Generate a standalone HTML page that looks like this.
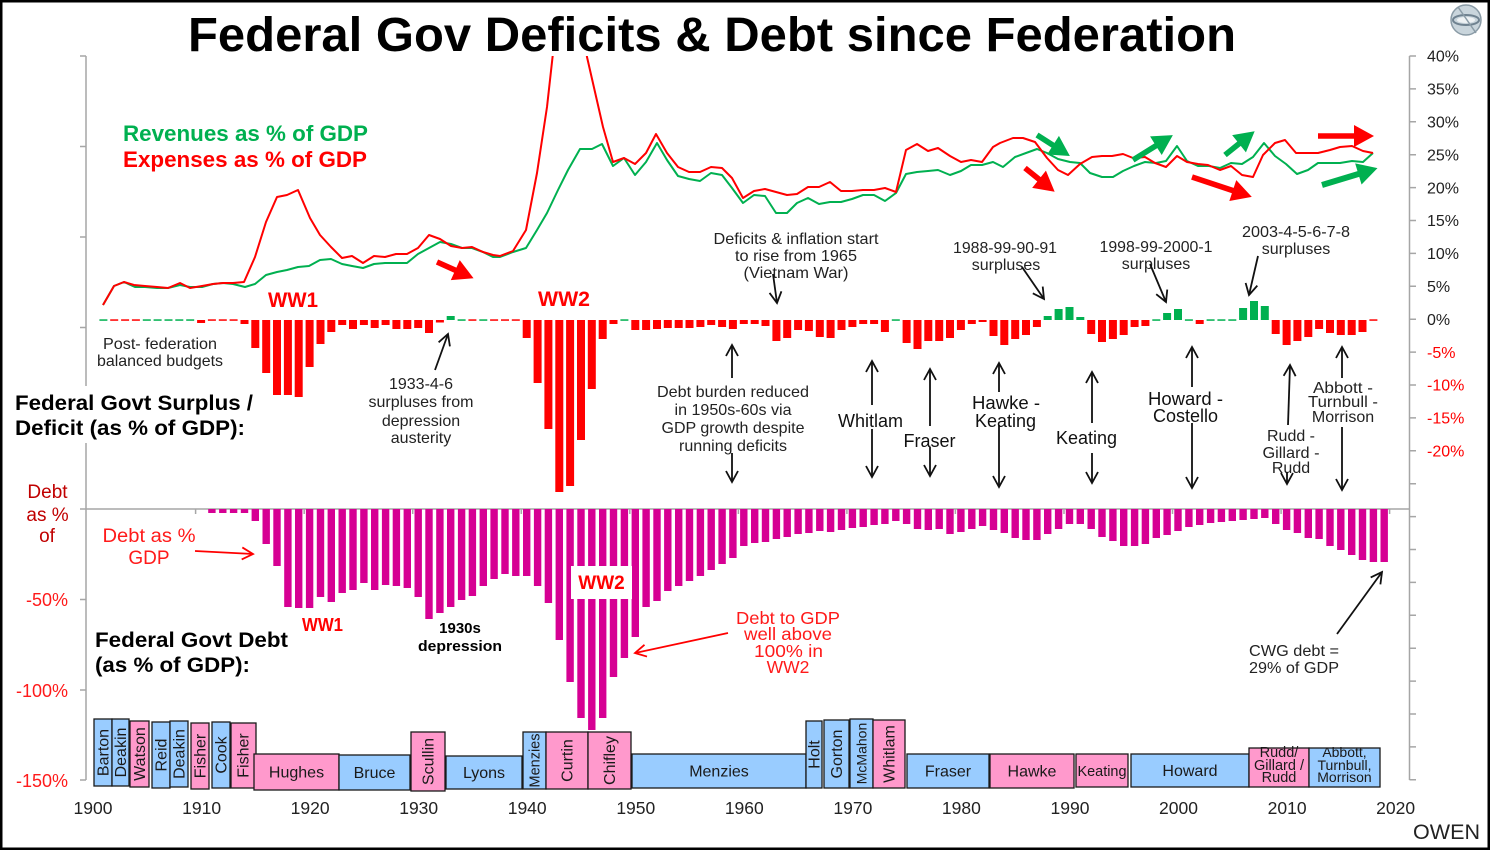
<!DOCTYPE html>
<html><head><meta charset="utf-8"><style>
html,body{margin:0;padding:0;background:#fff;}
svg{display:block;}
text{font-family:"Liberation Sans",Arial,sans-serif;}
</style></head><body>
<svg width="1490" height="851" viewBox="0 0 1490 851" xmlns="http://www.w3.org/2000/svg">
<defs>
<marker id="ah" markerUnits="userSpaceOnUse" markerWidth="16" markerHeight="16" refX="13" refY="8" orient="auto"><path d="M2,2 L13,8 L2,14" fill="none" stroke="#111" stroke-width="1.8"/></marker>
<marker id="ahr" markerUnits="userSpaceOnUse" markerWidth="16" markerHeight="16" refX="13" refY="8" orient="auto"><path d="M2,2 L13,8 L2,14" fill="none" stroke="#f00" stroke-width="1.8"/></marker>
<clipPath id="cp"><rect x="86" y="56" width="1324" height="300"/></clipPath>
</defs>
<rect width="1490" height="851" fill="#fff"/>

<!-- axes -->
<g stroke="#a6a6a6" stroke-width="1.5" fill="none">
<line x1="86" y1="56" x2="86" y2="780"/>
<path d="M80,56H86M80,146.5H86M80,237H86M80,327.5H86M80,418H86M80,509H86M80,599.5H86M80,690H86M80,780H86"/>
<line x1="1409.5" y1="56" x2="1409.5" y2="780"/>
<path d="M1409.5,56H1416M1409.5,88.9H1416M1409.5,121.8H1416M1409.5,154.7H1416M1409.5,187.6H1416M1409.5,220.5H1416M1409.5,253.4H1416M1409.5,286.3H1416M1409.5,319.2H1416M1409.5,352.1H1416M1409.5,385H1416M1409.5,417.9H1416M1409.5,450.8H1416M1409.5,483.7H1416M1409.5,516.6H1416M1409.5,549.5H1416M1409.5,582.4H1416M1409.5,615.3H1416M1409.5,648.2H1416M1409.5,681.1H1416M1409.5,714H1416M1409.5,746.9H1416M1409.5,779.8H1416"/>
<line x1="86" y1="509" x2="1409.5" y2="509"/>
<path d="M195.6,509V514M304.2,509V514M412.7,509V514M521.3,509V514M629.8,509V514M738.4,509V514M846.9,509V514M955.4,509V514M1064,509V514M1172.5,509V514M1281.1,509V514M1389.6,509V514"/>
</g>

<!-- white box behind surplus label -->
<rect x="12" y="386" width="245" height="57" fill="#fff"/>

<!-- revenue / expense lines -->
<g clip-path="url(#cp)" fill="none" stroke-width="2" stroke-linejoin="round">
<polyline stroke="#00b050" points="103,305 114,286 124,282 135,287 145,287 157,288 168,288 180,285 190,287 202,287 213,284 223,283 233,284 245,287 255,284 266,275 277,272 287,270 298,267 309,266 320,260 331,259 342,264 352,266 363,268 374,264 385,263 396,263 407,263 418,254 429,248 440,242 451,244 462,248 472,248 483,252 493,257 500,257 513,252 526,248 537,230 547,213 558,190 568,170 580,149 592,149 602,144 613,166 624,158 635,175 646,162 657,143 667,160 678,176 689,179 700,181 711,173 722,175 732,188 743,203 754,195 765,196 776,213 787,213 797,203 808,198 819,204 830,202 841,202 852,199 863,195 874,195 885,201 896,193 906,174 917,172 928,171 938,170 950,175 961,171 971,165 982,165 993,162 1003,167 1015,157 1026,153 1037,149 1047,153 1058,159 1070,162 1080,163 1090,173 1102,177 1113,177 1123,171 1134,166 1145,162 1156,163 1166,161 1177,146 1187,161 1198,166 1209,166 1220,168 1231,163 1242,164 1253,157 1264,143 1275,156 1286,164 1297,174 1308,170 1318,163 1330,163 1340,163 1352,161 1363,162 1373,153"/>
<polyline stroke="#ff0000" points="103,305 114,286 124,282 134,285 145,286 157,287 168,288 180,283 190,288 202,286 213,284 223,283 233,283 244,282 255,257 266,222 277,197 287,195 298,190 310,218 320,235 331,247 342,258 352,256 363,263 374,256 385,257 396,254 407,254 418,248 429,235 440,239 451,246 462,248 472,247 483,252 493,255 500,256 513,251 526,230 537,173 547,107 553,53 565,0 578,0 587,57 595,92 603,127 613,162 624,158 635,164 646,153 656,134 667,153 678,167 689,172 700,172 711,167 722,168 732,178 743,198 754,191 765,189 776,192 787,195 797,194 808,187 819,187 830,182 841,191 852,191 863,190 874,190 885,188 896,192 906,150 917,144 928,151 938,148 950,156 961,162 971,160 982,162 993,147 1000,143 1013,138 1023,138 1035,142 1047,158 1058,170 1068,175 1080,164 1092,157 1102,156 1112,156 1123,154 1133,158 1145,157 1155,163 1166,167 1177,156 1187,162 1198,164 1208,165 1220,170 1231,166 1242,175 1253,177 1263,155 1275,143 1285,140 1296,153 1308,153 1318,153 1330,150 1340,147 1352,146 1363,151 1373,153"/>
</g>

<!-- deficit bars red -->
<g fill="#ff0000">
<rect x="110.2" y="319.3" width="8" height="1.5"/><rect x="121.1" y="319.3" width="8" height="1.5"/><rect x="131.9" y="319.3" width="8" height="1.5"/>
<rect x="197.1" y="320" width="8" height="3"/><rect x="207.9" y="319.3" width="8" height="1.5"/><rect x="218.8" y="319.3" width="8" height="1.5"/><rect x="229.6" y="319.3" width="8" height="1.5"/>
<rect x="240.5" y="320" width="8" height="4"/><rect x="251.3" y="320" width="8" height="28"/><rect x="262.2" y="320" width="8" height="53"/><rect x="273" y="320" width="8" height="75"/><rect x="283.9" y="320" width="8" height="75"/><rect x="294.7" y="320" width="8" height="77"/><rect x="305.6" y="320" width="8" height="47"/><rect x="316.5" y="320" width="8" height="24"/><rect x="327.3" y="320" width="8" height="12"/><rect x="338.2" y="320" width="8" height="5"/><rect x="349" y="320" width="8" height="9"/><rect x="359.9" y="320" width="8" height="5"/><rect x="370.7" y="320" width="8" height="8"/><rect x="381.6" y="320" width="8" height="5"/><rect x="392.4" y="320" width="8" height="9"/><rect x="403.3" y="320" width="8" height="9"/><rect x="414.2" y="320" width="8" height="8"/><rect x="425" y="320" width="8" height="13"/><rect x="435.9" y="320" width="8" height="2.5"/>
<rect x="468.4" y="319.3" width="8" height="1.5"/><rect x="490.1" y="319.3" width="8" height="1.5"/><rect x="501" y="319.3" width="8" height="1.5"/><rect x="511.8" y="319.3" width="8" height="1.5"/>
<rect x="522.7" y="320" width="8" height="18"/><rect x="533.6" y="320" width="8" height="63"/><rect x="544.4" y="320" width="8" height="109"/><rect x="555.3" y="320" width="8" height="172"/><rect x="566.1" y="320" width="8" height="166"/><rect x="577" y="320" width="8" height="120"/><rect x="587.8" y="320" width="8" height="69"/><rect x="598.7" y="320" width="8" height="19"/><rect x="609.5" y="320" width="8" height="4"/>
<rect x="631.3" y="320" width="8" height="10"/><rect x="642.1" y="320" width="8" height="10"/><rect x="653" y="320" width="8" height="9"/><rect x="663.8" y="320" width="8" height="8"/><rect x="674.7" y="320" width="8" height="8"/><rect x="685.5" y="320" width="8" height="8"/><rect x="696.4" y="320" width="8" height="7"/><rect x="707.2" y="320" width="8" height="5"/><rect x="718.1" y="320" width="8" height="7"/><rect x="728.9" y="320" width="8" height="9"/><rect x="739.8" y="320" width="8" height="4"/><rect x="750.7" y="320" width="8" height="4"/><rect x="761.5" y="320" width="8" height="6"/><rect x="772.4" y="320" width="8" height="21"/><rect x="783.2" y="320" width="8" height="18"/><rect x="794.1" y="320" width="8" height="10"/><rect x="804.9" y="320" width="8" height="11"/><rect x="815.8" y="320" width="8" height="17"/><rect x="826.6" y="320" width="8" height="18"/><rect x="837.5" y="320" width="8" height="10"/><rect x="848.4" y="320" width="8" height="7"/><rect x="859.2" y="320" width="8" height="4"/><rect x="870.1" y="320" width="8" height="4"/><rect x="880.9" y="320" width="8" height="12"/>
<rect x="902.6" y="320" width="8" height="23"/><rect x="913.5" y="320" width="8" height="29"/><rect x="924.3" y="320" width="8" height="21"/><rect x="935.2" y="320" width="8" height="21"/><rect x="946" y="320" width="8" height="18"/><rect x="956.9" y="320" width="8" height="10"/><rect x="967.8" y="320" width="8" height="4"/><rect x="978.6" y="320" width="8" height="2"/><rect x="989.5" y="320" width="8" height="16"/><rect x="1000.3" y="320" width="8" height="25"/><rect x="1011.2" y="320" width="8" height="19"/><rect x="1022" y="320" width="8" height="15"/><rect x="1032.9" y="320" width="8" height="7"/>
<rect x="1087.2" y="320" width="8" height="14"/><rect x="1098" y="320" width="8" height="22"/><rect x="1108.9" y="320" width="8" height="19"/><rect x="1119.7" y="320" width="8" height="15"/><rect x="1130.6" y="320" width="8" height="7"/><rect x="1141.4" y="320" width="8" height="6"/>
<rect x="1195.7" y="320" width="8" height="4"/>
<rect x="1271.7" y="320" width="8" height="14"/><rect x="1282.6" y="320" width="8" height="25"/><rect x="1293.4" y="320" width="8" height="21"/><rect x="1304.3" y="320" width="8" height="17"/><rect x="1315.1" y="320" width="8" height="9"/><rect x="1326" y="320" width="8" height="13"/><rect x="1336.8" y="320" width="8" height="15"/><rect x="1347.7" y="320" width="8" height="15"/><rect x="1358.5" y="320" width="8" height="12"/><rect x="1369.4" y="319.3" width="8" height="1.5"/>
</g>
<!-- deficit bars green -->
<g fill="#00b050">
<rect x="99.4" y="319.3" width="8" height="1.5"/><rect x="142.8" y="319.3" width="8" height="1.5"/><rect x="153.6" y="319.3" width="8" height="1.5"/><rect x="164.5" y="319.3" width="8" height="1.5"/><rect x="175.3" y="319.3" width="8" height="1.5"/><rect x="186.2" y="319.3" width="8" height="1.5"/>
<rect x="446.7" y="316" width="8" height="4"/><rect x="457.6" y="319.3" width="8" height="1.5"/><rect x="479.3" y="319.3" width="8" height="1.5"/><rect x="620.4" y="319.3" width="8" height="1.5"/><rect x="891.8" y="319.3" width="8" height="1.5"/>
<rect x="1043.7" y="316" width="8" height="4"/><rect x="1054.6" y="309" width="8" height="11"/><rect x="1065.5" y="307" width="8" height="13"/><rect x="1076.3" y="317" width="8" height="3"/>
<rect x="1152.3" y="319.3" width="8" height="1.5"/><rect x="1163.1" y="313" width="8" height="7"/><rect x="1174" y="309" width="8" height="11"/><rect x="1184.9" y="319.3" width="8" height="1.5"/>
<rect x="1206.6" y="319.3" width="8" height="1.5"/><rect x="1217.4" y="319.3" width="8" height="1.5"/><rect x="1228.3" y="319.3" width="8" height="1.5"/>
<rect x="1239.1" y="308" width="8" height="12"/><rect x="1250" y="301" width="8" height="19"/><rect x="1260.8" y="306" width="8" height="14"/>
</g>

<!-- debt bars -->
<g fill="#d60093">
<rect x="208.2" y="509" width="7.4" height="4"/><rect x="219.1" y="509" width="7.4" height="4"/><rect x="229.9" y="509" width="7.4" height="4"/><rect x="240.8" y="509" width="7.4" height="4"/><rect x="251.6" y="509" width="7.4" height="12"/><rect x="262.5" y="509" width="7.4" height="35"/><rect x="273.3" y="509" width="7.4" height="57"/><rect x="284.2" y="509" width="7.4" height="98"/><rect x="295" y="509" width="7.4" height="99"/><rect x="305.9" y="509" width="7.4" height="99"/><rect x="316.8" y="509" width="7.4" height="88"/><rect x="327.6" y="509" width="7.4" height="93"/><rect x="338.5" y="509" width="7.4" height="84"/><rect x="349.3" y="509" width="7.4" height="81"/><rect x="360.2" y="509" width="7.4" height="74"/><rect x="371" y="509" width="7.4" height="81"/><rect x="381.9" y="509" width="7.4" height="76"/><rect x="392.7" y="509" width="7.4" height="77"/><rect x="403.6" y="509" width="7.4" height="79"/><rect x="414.5" y="509" width="7.4" height="88"/><rect x="425.3" y="509" width="7.4" height="110"/><rect x="436.2" y="509" width="7.4" height="104"/><rect x="447" y="509" width="7.4" height="98"/><rect x="457.9" y="509" width="7.4" height="91"/><rect x="468.7" y="509" width="7.4" height="87"/><rect x="479.6" y="509" width="7.4" height="77"/><rect x="490.4" y="509" width="7.4" height="70"/><rect x="501.3" y="509" width="7.4" height="65"/><rect x="512.1" y="509" width="7.4" height="67"/><rect x="523" y="509" width="7.4" height="67"/><rect x="533.9" y="509" width="7.4" height="77"/><rect x="544.7" y="509" width="7.4" height="94"/><rect x="555.6" y="509" width="7.4" height="131"/><rect x="566.4" y="509" width="7.4" height="173"/><rect x="577.3" y="509" width="7.4" height="209"/><rect x="588.1" y="509" width="7.4" height="221"/><rect x="599" y="509" width="7.4" height="209"/><rect x="609.8" y="509" width="7.4" height="168"/><rect x="620.7" y="509" width="7.4" height="149"/><rect x="631.6" y="509" width="7.4" height="128"/><rect x="642.4" y="509" width="7.4" height="98"/><rect x="653.3" y="509" width="7.4" height="92"/><rect x="664.1" y="509" width="7.4" height="82"/><rect x="675" y="509" width="7.4" height="77"/><rect x="685.8" y="509" width="7.4" height="72"/><rect x="696.7" y="509" width="7.4" height="67"/><rect x="707.5" y="509" width="7.4" height="61"/><rect x="718.4" y="509" width="7.4" height="55"/><rect x="729.2" y="509" width="7.4" height="49"/><rect x="740.1" y="509" width="7.4" height="37"/><rect x="751" y="509" width="7.4" height="34"/><rect x="761.8" y="509" width="7.4" height="33"/><rect x="772.7" y="509" width="7.4" height="30"/><rect x="783.5" y="509" width="7.4" height="28"/><rect x="794.4" y="509" width="7.4" height="25"/><rect x="805.2" y="509" width="7.4" height="24"/><rect x="816.1" y="509" width="7.4" height="22"/><rect x="826.9" y="509" width="7.4" height="23"/><rect x="837.8" y="509" width="7.4" height="21"/><rect x="848.7" y="509" width="7.4" height="19"/><rect x="859.5" y="509" width="7.4" height="18"/><rect x="870.4" y="509" width="7.4" height="16"/><rect x="881.2" y="509" width="7.4" height="15"/><rect x="892.1" y="509" width="7.4" height="12"/><rect x="902.9" y="509" width="7.4" height="15"/><rect x="913.8" y="509" width="7.4" height="20"/><rect x="924.6" y="509" width="7.4" height="21"/><rect x="935.5" y="509" width="7.4" height="20"/><rect x="946.3" y="509" width="7.4" height="25"/><rect x="957.2" y="509" width="7.4" height="23"/><rect x="968.1" y="509" width="7.4" height="20"/><rect x="978.9" y="509" width="7.4" height="17"/><rect x="989.8" y="509" width="7.4" height="21"/><rect x="1000.6" y="509" width="7.4" height="24"/><rect x="1011.5" y="509" width="7.4" height="29"/><rect x="1022.3" y="509" width="7.4" height="31"/><rect x="1033.2" y="509" width="7.4" height="31"/><rect x="1044" y="509" width="7.4" height="25"/><rect x="1054.9" y="509" width="7.4" height="20"/><rect x="1065.8" y="509" width="7.4" height="15"/><rect x="1076.6" y="509" width="7.4" height="15"/><rect x="1087.5" y="509" width="7.4" height="20"/><rect x="1098.3" y="509" width="7.4" height="28"/><rect x="1109.2" y="509" width="7.4" height="32"/><rect x="1120" y="509" width="7.4" height="37"/><rect x="1130.9" y="509" width="7.4" height="37"/><rect x="1141.7" y="509" width="7.4" height="35"/><rect x="1152.6" y="509" width="7.4" height="29"/><rect x="1163.4" y="509" width="7.4" height="26"/><rect x="1174.3" y="509" width="7.4" height="22"/><rect x="1185.2" y="509" width="7.4" height="18"/><rect x="1196" y="509" width="7.4" height="16"/><rect x="1206.9" y="509" width="7.4" height="14"/><rect x="1217.7" y="509" width="7.4" height="13"/><rect x="1228.6" y="509" width="7.4" height="12"/><rect x="1239.4" y="509" width="7.4" height="11"/><rect x="1250.3" y="509" width="7.4" height="10"/><rect x="1261.1" y="509" width="7.4" height="9"/><rect x="1272" y="509" width="7.4" height="15"/><rect x="1282.9" y="509" width="7.4" height="21"/><rect x="1293.7" y="509" width="7.4" height="24"/><rect x="1304.6" y="509" width="7.4" height="29"/><rect x="1315.4" y="509" width="7.4" height="30"/><rect x="1326.3" y="509" width="7.4" height="37"/><rect x="1337.1" y="509" width="7.4" height="41"/><rect x="1348" y="509" width="7.4" height="46"/><rect x="1358.8" y="509" width="7.4" height="51"/><rect x="1369.7" y="509" width="7.4" height="53"/><rect x="1380.5" y="509" width="7.4" height="53"/>
</g>

<!-- WW2 label box in debt -->
<rect x="571" y="566" width="61" height="33" fill="#fff"/>
<text x="601.5" y="589" font-size="19" font-weight="bold" fill="#ff0000" text-anchor="middle">WW2</text>

<!-- PM boxes -->
<g stroke="#1a1a1a" stroke-width="1.3">
<rect x="94" y="719" width="18" height="67" fill="#99ccff"/>
<rect x="112" y="719" width="17" height="67" fill="#99ccff"/>
<rect x="130" y="721" width="19" height="66" fill="#ff99cc"/>
<rect x="152" y="722" width="18" height="66" fill="#99ccff"/>
<rect x="170" y="721" width="18" height="66" fill="#99ccff"/>
<rect x="191" y="723" width="18" height="66" fill="#ff99cc"/>
<rect x="212" y="722" width="18" height="66" fill="#99ccff"/>
<rect x="231" y="723" width="25" height="65" fill="#ff99cc"/>
<rect x="254" y="754" width="85" height="36" fill="#ff99cc"/>
<rect x="339" y="755" width="71" height="35" fill="#99ccff"/>
<rect x="411" y="732" width="34" height="59" fill="#ff99cc"/>
<rect x="446" y="756" width="76" height="33" fill="#99ccff"/>
<rect x="523" y="732" width="23" height="57" fill="#99ccff"/>
<rect x="546" y="732" width="42" height="57" fill="#ff99cc"/>
<rect x="588" y="732" width="43" height="57" fill="#ff99cc"/>
<rect x="632" y="754" width="174" height="34" fill="#99ccff"/>
<rect x="806" y="721" width="16" height="67" fill="#99ccff"/>
<rect x="824" y="720" width="25" height="68" fill="#99ccff"/>
<rect x="850" y="719" width="23" height="69" fill="#99ccff"/>
<rect x="873" y="720" width="32" height="68" fill="#ff99cc"/>
<rect x="907" y="754" width="82" height="34" fill="#99ccff"/>
<rect x="990" y="754" width="84" height="34" fill="#ff99cc"/>
<rect x="1076" y="754" width="52" height="33" fill="#ff99cc"/>
<rect x="1131" y="754" width="118" height="33" fill="#99ccff"/>
<rect x="1249" y="748" width="60" height="39" fill="#ff99cc"/>
<rect x="1309" y="748" width="71" height="39" fill="#99ccff"/>
</g>
<g font-size="16" fill="#1a1a1a" text-anchor="middle">
<text transform="translate(103,752.5) rotate(-90)" y="5.6">Barton</text>
<text transform="translate(120.5,752.5) rotate(-90)" y="5.6">Deakin</text>
<text transform="translate(139.5,754) rotate(-90)" y="5.6">Watson</text>
<text transform="translate(161,755) rotate(-90)" y="5.6">Reid</text>
<text transform="translate(179,754) rotate(-90)" y="5.6">Deakin</text>
<text transform="translate(200,756) rotate(-90)" y="5.6">Fisher</text>
<text transform="translate(221,755) rotate(-90)" y="5.6">Cook</text>
<text transform="translate(243,755.5) rotate(-90)" y="5.6">Fisher</text>
<text transform="translate(428,761.5) rotate(-90)" y="5.6">Scullin</text>
<text transform="translate(534.5,760.5) rotate(-90)" y="5.2" font-size="14.5">Menzies</text>
<text transform="translate(567,760.5) rotate(-90)" y="5.6">Curtin</text>
<text transform="translate(609.5,760.5) rotate(-90)" y="5.6">Chifley</text>
<text transform="translate(814,754.5) rotate(-90)" y="5.6">Holt</text>
<text transform="translate(836.5,754) rotate(-90)" y="5.6">Gorton</text>
<text transform="translate(861.5,753.5) rotate(-90)" y="5" font-size="14">McMahon</text>
<text transform="translate(889,754) rotate(-90)" y="5.6">Whitlam</text>
<text x="296.5" y="777.5">Hughes</text>
<text x="374.5" y="778">Bruce</text>
<text x="484" y="778">Lyons</text>
<text x="719" y="776.5">Menzies</text>
<text x="948" y="776.5">Fraser</text>
<text x="1032" y="776.5">Hawke</text>
<text x="1102" y="776" font-size="15" textLength="49" lengthAdjust="spacingAndGlyphs">Keating</text>
<text x="1190" y="776">Howard</text>
<text x="1279" y="757" font-size="14.5">Rudd/</text>
<text x="1279" y="770" font-size="14.5">Gillard /</text>
<text x="1279" y="782" font-size="14.5">Rudd</text>
<text x="1344.5" y="757" font-size="14">Abbott,</text>
<text x="1344.5" y="770" font-size="14">Turnbull,</text>
<text x="1344.5" y="782" font-size="14">Morrison</text>
</g>

<!-- x labels -->
<g font-size="17.5" fill="#222" text-anchor="middle">
<text x="93" y="814">1900</text><text x="201.6" y="814">1910</text><text x="310.1" y="814">1920</text><text x="418.7" y="814">1930</text><text x="527.2" y="814">1940</text><text x="635.8" y="814">1950</text><text x="744.3" y="814">1960</text><text x="852.9" y="814">1970</text><text x="961.4" y="814">1980</text><text x="1070" y="814">1990</text><text x="1178.5" y="814">2000</text><text x="1287.1" y="814">2010</text><text x="1395.6" y="814">2020</text>
</g>

<!-- right labels -->
<g font-size="16" fill="#222">
<text x="1427" y="61.7">40%</text><text x="1427" y="94.6">35%</text><text x="1427" y="127.5">30%</text><text x="1427" y="160.4">25%</text><text x="1427" y="193.3">20%</text><text x="1427" y="226.2">15%</text><text x="1427" y="259.1">10%</text><text x="1427" y="292">5%</text><text x="1427" y="324.9">0%</text>
</g>
<g font-size="16" fill="#ff0000">
<text x="1427" y="357.8">-5%</text><text x="1427" y="390.7">-10%</text><text x="1427" y="423.6">-15%</text><text x="1427" y="456.5">-20%</text>
</g>

<!-- left labels -->
<g font-size="18" fill="#ff1a1a" text-anchor="end">
<text x="68" y="606">-50%</text><text x="68" y="697">-100%</text><text x="68" y="787">-150%</text>
</g>
<g font-size="19" fill="#c00000" text-anchor="middle">
<text x="47.5" y="498">Debt</text><text x="47.5" y="521">as %</text><text x="47" y="542">of</text>
</g>

<!-- Title -->
<text x="712" y="51" font-size="48" font-weight="bold" fill="#000" text-anchor="middle" textLength="1048" lengthAdjust="spacingAndGlyphs">Federal Gov Deficits &amp; Debt since Federation</text>

<!-- Logo -->
<g transform="translate(1466,20)">
<circle r="15" fill="#c9d5dc" stroke="#8a9ba6" stroke-width="1.5"/>
<ellipse rx="13" ry="5" fill="none" stroke="#6f8290" stroke-width="2"/>
<ellipse rx="9" ry="3" fill="#eef2f4"/>
<path d="M-8,-13 L10,13" stroke="#8a9ba6" stroke-width="1.5"/>
</g>

<!-- legend -->
<text x="123" y="141" font-size="22" font-weight="bold" fill="#00b050" textLength="245" lengthAdjust="spacingAndGlyphs">Revenues as %  of GDP</text>
<text x="123" y="167" font-size="22" font-weight="bold" fill="#ff0000" textLength="244" lengthAdjust="spacingAndGlyphs">Expenses as %  of GDP</text>

<!-- WW labels -->
<text x="268" y="307" font-size="21" font-weight="bold" fill="#ff0000" textLength="50" lengthAdjust="spacingAndGlyphs">WW1</text>
<text x="538" y="306" font-size="21" font-weight="bold" fill="#ff0000" textLength="52" lengthAdjust="spacingAndGlyphs">WW2</text>
<text x="302" y="631" font-size="18" font-weight="bold" fill="#ff0000" textLength="41" lengthAdjust="spacingAndGlyphs">WW1</text>

<!-- Section labels -->
<g font-size="21.5" font-weight="bold" fill="#000">
<text x="15" y="410" textLength="238" lengthAdjust="spacingAndGlyphs">Federal Govt Surplus /</text>
<text x="15" y="435" textLength="230" lengthAdjust="spacingAndGlyphs">Deficit (as %  of GDP):</text>
<text x="95" y="647" textLength="193" lengthAdjust="spacingAndGlyphs">Federal Govt Debt</text>
<text x="95" y="672" textLength="155" lengthAdjust="spacingAndGlyphs">(as %  of GDP):</text>
</g>
<g font-size="15" font-weight="bold" fill="#000" text-anchor="middle">
<text x="460" y="633">1930s</text>
<text x="460" y="651" textLength="84" lengthAdjust="spacingAndGlyphs">depression</text>
</g>

<!-- annotations -->
<g font-size="16" fill="#222" text-anchor="middle">
<text x="160" y="349" textLength="114" lengthAdjust="spacingAndGlyphs">Post-  federation</text>
<text x="160" y="366" textLength="126" lengthAdjust="spacingAndGlyphs">balanced  budgets</text>
<text x="421" y="389">1933-4-6</text>
<text x="421" y="407" textLength="105" lengthAdjust="spacingAndGlyphs">surpluses  from</text>
<text x="421" y="426">depression</text>
<text x="421" y="443">austerity</text>
<text x="796" y="244" textLength="165" lengthAdjust="spacingAndGlyphs">Deficits &amp; inflation start</text>
<text x="796" y="261" textLength="122" lengthAdjust="spacingAndGlyphs">to rise from 1965</text>
<text x="796" y="278" textLength="105" lengthAdjust="spacingAndGlyphs">(Vietnam War)</text>
<text x="1005" y="253" textLength="104" lengthAdjust="spacingAndGlyphs">1988-99-90-91</text>
<text x="1006" y="270">surpluses</text>
<text x="1156" y="252" textLength="113" lengthAdjust="spacingAndGlyphs">1998-99-2000-1</text>
<text x="1156" y="269">surpluses</text>
<text x="1296" y="237" textLength="108" lengthAdjust="spacingAndGlyphs">2003-4-5-6-7-8</text>
<text x="1296" y="254">surpluses</text>
<text x="733" y="397" textLength="152" lengthAdjust="spacingAndGlyphs">Debt burden reduced</text>
<text x="733" y="415" textLength="117" lengthAdjust="spacingAndGlyphs">in 1950s-60s via</text>
<text x="733" y="433" textLength="143" lengthAdjust="spacingAndGlyphs">GDP growth despite</text>
<text x="733" y="451" textLength="108" lengthAdjust="spacingAndGlyphs">running deficits</text>
<text x="1291" y="441" textLength="48" lengthAdjust="spacingAndGlyphs">Rudd  -</text>
<text x="1291" y="458" textLength="57" lengthAdjust="spacingAndGlyphs">Gillard  -</text>
<text x="1291" y="473">Rudd</text>
<text x="1343" y="393" textLength="60" lengthAdjust="spacingAndGlyphs">Abbott  -</text>
<text x="1343" y="407" textLength="70" lengthAdjust="spacingAndGlyphs">Turnbull  -</text>
<text x="1343" y="422">Morrison</text>
</g>
<g font-size="18" fill="#111" text-anchor="middle">
<text x="870.5" y="427">Whitlam</text>
<text x="929.5" y="447">Fraser</text>
<text x="1006" y="409" textLength="68" lengthAdjust="spacingAndGlyphs">Hawke  -</text>
<text x="1005.5" y="427">Keating</text>
<text x="1086.5" y="444">Keating</text>
<text x="1185.5" y="405" textLength="75" lengthAdjust="spacingAndGlyphs">Howard  -</text>
<text x="1185.5" y="422">Costello</text>
</g>
<g font-size="15.5" fill="#222">
<text x="1249" y="656" textLength="90" lengthAdjust="spacingAndGlyphs">CWG debt  =</text>
<text x="1249" y="673" textLength="90" lengthAdjust="spacingAndGlyphs">29% of GDP</text>
</g>
<text x="1413" y="839" font-size="21" fill="#222" textLength="67" lengthAdjust="spacingAndGlyphs">OWEN</text>

<!-- red debt annotations -->
<g font-size="19" fill="#ff1a1a" text-anchor="middle">
<text x="149" y="542" textLength="93" lengthAdjust="spacingAndGlyphs">Debt as %</text>
<text x="149" y="564">GDP</text>
</g>
<g font-size="17.5" fill="#ff1a1a" text-anchor="middle">
<text x="788" y="624" textLength="104" lengthAdjust="spacingAndGlyphs">Debt to GDP</text>
<text x="788" y="640" textLength="88" lengthAdjust="spacingAndGlyphs">well above</text>
<text x="788.5" y="657" textLength="69" lengthAdjust="spacingAndGlyphs">100%  in</text>
<text x="788" y="673">WW2</text>
</g>

<!-- thin arrows -->
<g stroke="#111" stroke-width="1.8" fill="none">
<line x1="435" y1="370" x2="448" y2="334" marker-end="url(#ah)"/>
<line x1="773" y1="274" x2="777" y2="303" marker-end="url(#ah)"/>
<line x1="1022" y1="267" x2="1044" y2="299" marker-end="url(#ah)"/>
<line x1="1150" y1="264" x2="1166" y2="302" marker-end="url(#ah)"/>
<line x1="1258" y1="256" x2="1249" y2="295" marker-end="url(#ah)"/>
<line x1="732" y1="378" x2="732" y2="345" marker-end="url(#ah)"/>
<line x1="732" y1="453" x2="732" y2="482" marker-end="url(#ah)"/>
<line x1="872" y1="405" x2="872" y2="361" marker-end="url(#ah)"/>
<line x1="872" y1="429" x2="872" y2="477" marker-end="url(#ah)"/>
<line x1="930" y1="426" x2="930" y2="369" marker-end="url(#ah)"/>
<line x1="930" y1="447" x2="930" y2="476" marker-end="url(#ah)"/>
<line x1="999" y1="392" x2="999" y2="363" marker-end="url(#ah)"/>
<line x1="999" y1="425" x2="999" y2="487" marker-end="url(#ah)"/>
<line x1="1092" y1="423" x2="1092" y2="372" marker-end="url(#ah)"/>
<line x1="1092" y1="453" x2="1092" y2="483" marker-end="url(#ah)"/>
<line x1="1192" y1="387" x2="1192" y2="347" marker-end="url(#ah)"/>
<line x1="1192" y1="423" x2="1192" y2="488" marker-end="url(#ah)"/>
<line x1="1288" y1="425" x2="1290" y2="365" marker-end="url(#ah)"/>
<line x1="1287" y1="472" x2="1287" y2="484" marker-end="url(#ah)"/>
<line x1="1342" y1="378" x2="1342" y2="347" marker-end="url(#ah)"/>
<line x1="1342" y1="427" x2="1342" y2="490" marker-end="url(#ah)"/>
<line x1="1337" y1="634" x2="1382" y2="572" marker-end="url(#ah)"/>
</g>
<g stroke="#f00" stroke-width="1.8" fill="none">
<line x1="195" y1="551" x2="253" y2="554" marker-end="url(#ahr)"/>
<line x1="728" y1="633" x2="635" y2="653" marker-end="url(#ahr)"/>
</g>

<!-- thick block arrows -->
<polygon transform="translate(437,262) rotate(24)" fill="#ff0000" points="0,-2.8 20,-2.8 20,-11 40,0 20,11 20,2.8 0,2.8"/>
<polygon transform="translate(1037,135) rotate(32.5)" fill="#00b050" points="0,-2.8 19,-2.8 19,-11 39,0 19,11 19,2.8 0,2.8"/>
<polygon transform="translate(1025,168) rotate(38.7)" fill="#ff0000" points="0,-2.8 18,-2.8 18,-11 38,0 18,11 18,2.8 0,2.8"/>
<polygon transform="translate(1133,160) rotate(-32)" fill="#00b050" points="0,-2.8 27,-2.8 27,-11 47,0 27,11 27,2.8 0,2.8"/>
<polygon transform="translate(1225,155) rotate(-38.7)" fill="#00b050" points="0,-2.8 18,-2.8 18,-11 38,0 18,11 18,2.8 0,2.8"/>
<polygon transform="translate(1192,177) rotate(18.4)" fill="#ff0000" points="0,-2.8 43,-2.8 43,-11 63,0 43,11 43,2.8 0,2.8"/>
<polygon transform="translate(1318,136) rotate(0)" fill="#ff0000" points="0,-2.8 36,-2.8 36,-11 56,0 36,11 36,2.8 0,2.8"/>
<polygon transform="translate(1322,185) rotate(-16.9)" fill="#00b050" points="0,-3 38,-3 38,-11 58,0 38,11 38,3 0,3"/>

<!-- frame -->
<rect x="1.25" y="1.25" width="1487.5" height="847.5" fill="none" stroke="#000" stroke-width="2.5"/>
</svg>
</body></html>
